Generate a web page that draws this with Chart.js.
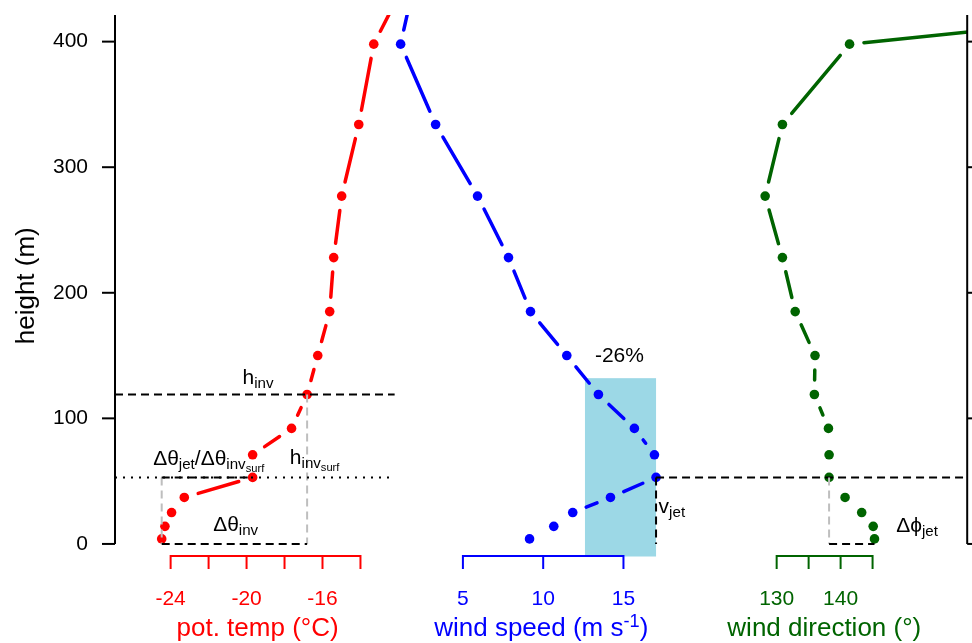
<!DOCTYPE html>
<html>
<head>
<meta charset="utf-8">
<script src="https://cdn.jsdelivr.net/npm/chart.js@4.4.0/dist/chart.umd.min.js"></script>
<style>
  html, body { margin: 0; padding: 0; background: #fff; }
</style>
</head>
<body>
<canvas id="myChart" width="972" height="643"></canvas>
<script>
// profile levels (m) and the three measured profiles
var heights   = [4, 14, 25, 37, 53, 71, 92, 119, 150, 185, 228, 277, 334, 398, 460];
var potTemp   = [-24.47, -24.3, -23.95, -23.28, -19.68, -19.68, -17.63, -16.81, -16.25, -15.62, -15.41, -14.99, -14.09, -13.3, -11.2];
var windSpeed = [9.15, 10.66, 11.84, 14.19, 17.03, 16.93, 15.68, 13.44, 11.47, 9.21, 7.84, 5.91, 3.3, 1.12, 2.2];
var windDir   = [145.3, 145.1, 143.3, 140.7, 138.2, 138.2, 138.1, 135.9, 136.0, 132.9, 130.9, 128.2, 130.9, 141.4, 260];

// axis ticks / labels
var heightTicks = [0, 100, 200, 300, 400];
var tempTicks = [-24, -22, -20, -18, -16, -14];
var tempLabels = [-24, -20, -16];
var speedTicks = [5, 10, 15];
var speedLabels = [5, 10, 15];
var dirTicks = [130, 135, 140, 145];
var dirLabels = [130, 140];

// jet / inversion markers
var jetIdx = 4;        // level of the jet
var invIdx = 7;        // top of the inversion
var jetDrop = 0.26;    // speed decrease above the jet
var dropTop = 132;     // top of the shaded box (m)
var lineEndTemp = -12.2;

var RED = '#ff0000', BLUE = '#0000ff', GREEN = '#006400', GREY = '#bebebe';
var FONT = '"Liberation Sans", Arial, sans-serif';

function profile(values) {
  return heights.map(function (h, i) { return { x: values[i], y: h }; });
}

// R type="b": every segment is cut short near the points
var GAP = 14.5;
function gapDash(c) {
  var len = Math.hypot(c.p1.x - c.p0.x, c.p1.y - c.p0.y);
  var d = len - 2 * GAP;
  var tail = 5000 + c.p0DataIndex;
  return d > 0 ? [0, GAP, d, tail] : [0, tail];
}

function series(values, color, axis) {
  return {
    data: profile(values),
    xAxisID: axis,
    yAxisID: 'y',
    showLine: true,
    borderColor: color,
    backgroundColor: color,
    borderWidth: 3.5,
    borderCapStyle: 'round',
    pointRadius: 4.8,
    pointHoverRadius: 4.8,
    pointBorderWidth: 0,
    pointBackgroundColor: color,
    clip: 0,
    segment: { borderDash: gapDash }
  };
}

var LVL = { 0: [1, 0], 1: [0.72, 0.19], 2: [0.53, 0.33], s: [0.7, -0.36] };
function mathText(c, parts, x, y, align, color, base) {
  base = base || 21;
  var w = 0;
  parts.forEach(function (p) {
    c.font = (LVL[p[1]][0] * base) + 'px ' + FONT;
    w += c.measureText(p[0]).width;
  });
  var cx = align === 'center' ? x - w / 2 : x;
  c.fillStyle = color;
  c.textAlign = 'left';
  c.textBaseline = 'alphabetic';
  parts.forEach(function (p) {
    var l = LVL[p[1]];
    c.font = (l[0] * base) + 'px ' + FONT;
    c.fillText(p[0], cx, y + l[1] * base);
    cx += c.measureText(p[0]).width;
  });
}

function seg(c, x1, y1, x2, y2, color, dash, width) {
  c.save();
  c.strokeStyle = color;
  c.lineWidth = width || 2;
  c.setLineDash(dash || []);
  c.lineCap = 'butt';
  c.beginPath();
  c.moveTo(x1, y1);
  c.lineTo(x2, y2);
  c.stroke();
  c.restore();
}

function bottomAxis(c, scale, ticks, labels, color, title, titleAt) {
  var yA = 556;
  seg(c, scale.getPixelForValue(ticks[0]), yA, scale.getPixelForValue(ticks[ticks.length - 1]), yA, color);
  ticks.forEach(function (t) {
    var px = scale.getPixelForValue(t);
    seg(c, px, yA - 1, px, yA + 13, color);
  });
  c.fillStyle = color;
  c.font = '21px ' + FONT;
  c.textAlign = 'center';
  c.textBaseline = 'alphabetic';
  labels.forEach(function (t) { c.fillText(String(t), scale.getPixelForValue(t), 605); });
  mathText(c, title, scale.getPixelForValue(titleAt), 636, 'center', color, 26);
}

// text notes, anchored in data units of one of the x scales
var notes = [
  { scale: 'x',  x: -20.21, y: 127.4, parts: [['h', 0], ['inv', 1]] },
  { scale: 'x',  x: -24.92, y: 62.9,  parts: [['Δθ', 0], ['jet', 1], ['/Δθ', 0], ['inv', 1], ['surf', 2]] },
  { scale: 'x',  x: -17.72, y: 63.7,  parts: [['h', 0], ['inv', 1], ['surf', 2]] },
  { scale: 'x',  x: -21.76, y: 10.6,  parts: [['Δθ', 0], ['inv', 1]] },
  { scale: 'xS', x: 14.75,  y: 144.9, parts: [['-' + Math.round(jetDrop * 100) + '%', 0]], align: 'center' },
  { scale: 'xS', x: 17.19,  y: 24.4,  parts: [['v', 0], ['jet', 1]] },
  { scale: 'xD', x: 148.7,  y: 9.8,   parts: [['Δϕ', 0], ['jet', 1]] }
];

var profilePlugin = {
  id: 'profileDecor',
  beforeDatasetsDraw: function (chart) {
    var c = chart.ctx, area = chart.chartArea;
    var sS = chart.scales.xS, sY = chart.scales.y;
    var jetSpeed = windSpeed[jetIdx];
    var x1 = sS.getPixelForValue(jetSpeed * (1 - jetDrop));
    var x2 = sS.getPixelForValue(jetSpeed);
    var yt = sY.getPixelForValue(dropTop);
    c.save();
    c.fillStyle = 'rgb(156, 216, 230)';
    c.fillRect(x1, yt, x2 - x1, area.bottom - yt);
    c.restore();
  },
  afterDatasetsDraw: function (chart) {
    var c = chart.ctx, area = chart.chartArea;
    var sT = chart.scales.x, sS = chart.scales.xS, sD = chart.scales.xD, sY = chart.scales.y;
    var yJet = sY.getPixelForValue(heights[jetIdx]);
    var yInv = sY.getPixelForValue(heights[invIdx]);
    var y0 = sY.getPixelForValue(0);
    var DASH = [8, 5], DOT = [2, 6];

    // temperature panel
    var tSurf = sT.getPixelForValue(potTemp[0]);
    var tJet = sT.getPixelForValue(potTemp[jetIdx]);
    var tInv = sT.getPixelForValue(potTemp[invIdx]);
    var tEnd = sT.getPixelForValue(lineEndTemp);
    seg(c, tSurf, yJet, tSurf, y0, GREY, DASH);
    seg(c, tInv, yInv, tInv, y0, GREY, DASH);
    seg(c, area.left, yJet, tEnd, yJet, '#000', DOT);
    seg(c, area.left, yInv, tEnd, yInv, '#000', DASH);
    seg(c, tSurf, yJet, tJet, yJet, '#000', DASH);
    seg(c, tSurf, y0, tInv, y0, '#000', DASH);

    // wind speed panel
    var sJet = sS.getPixelForValue(windSpeed[jetIdx]);
    seg(c, sJet, yJet, area.right, yJet, '#000', DASH);
    seg(c, sJet, yJet, sJet, y0, '#000', DASH);

    // wind direction panel
    var dJet = sD.getPixelForValue(windDir[jetIdx]);
    var dSurf = sD.getPixelForValue(windDir[0]);
    seg(c, dJet, yJet, dJet, y0, GREY, DASH);
    seg(c, dJet, y0, dSurf, y0, '#000', DASH);

    // height axes (left with labels, right ticks only)
    seg(c, area.left, y0, area.left, area.top, '#000');
    seg(c, area.right, y0, area.right, area.top, '#000');
    c.font = '21px ' + FONT;
    c.fillStyle = '#000';
    c.textAlign = 'right';
    c.textBaseline = 'middle';
    heightTicks.forEach(function (h) {
      var py = sY.getPixelForValue(h);
      seg(c, area.left - 13, py, area.left, py, '#000');
      seg(c, area.right, py, area.right + 6, py, '#000');
      c.fillText(String(h), area.left - 27, py);
    });
    c.save();
    c.translate(34, (area.top + area.bottom) / 2);
    c.rotate(-Math.PI / 2);
    c.font = '26px ' + FONT;
    c.textAlign = 'center';
    c.textBaseline = 'alphabetic';
    c.fillText('height (m)', 0, 0);
    c.restore();

    // the three bottom axes
    bottomAxis(c, sT, tempTicks, tempLabels, RED, [['pot. temp (°C)', 0]], -19.42);
    bottomAxis(c, sS, speedTicks, speedLabels, BLUE, [['wind speed (m s', 0], ['-1', 's'], [')', 0]], 9.88);
    bottomAxis(c, sD, dirTicks, dirLabels, GREEN, [['wind direction (°)', 0]], 137.45);

    // notes
    notes.forEach(function (n) {
      var sc = chart.scales[n.scale];
      mathText(c, n.parts, sc.getPixelForValue(n.x), sY.getPixelForValue(n.y), n.align || 'left', '#000', 21);
    });
  }
};

var ctx = document.getElementById('myChart').getContext('2d');

var myChart = new Chart(ctx, {
  type: 'scatter',
  data: {
    datasets: [
      series(potTemp, RED, 'x'),
      series(windSpeed, BLUE, 'xS'),
      series(windDir, GREEN, 'xD')
    ]
  },
  options: {
    responsive: false,
    animation: false,
    events: [],
    layout: { padding: { left: 115, right: 4, top: 15, bottom: 86.5 } },
    plugins: {
      legend: { display: false },
      tooltip: { enabled: false }
    },
    scales: {
      y:  { type: 'linear', display: false, min: -10, max: 421.2 },
      x:  { type: 'linear', position: 'bottom', display: false, min: -26.93, max: 17.96 },
      xS: { type: 'linear', position: 'bottom', display: false, min: -16.67, max: 36.41 },
      xD: { type: 'linear', position: 'bottom', display: false, min: 26.52, max: 159.8 }
    }
  },
  plugins: [profilePlugin]
});
</script>
</body>
</html>
